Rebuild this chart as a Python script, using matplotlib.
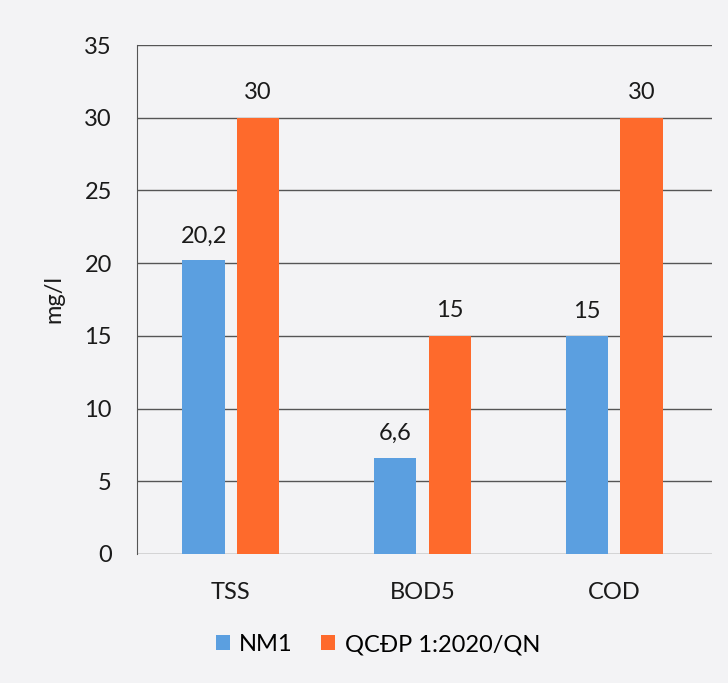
import matplotlib.pyplot as plt
import numpy as np

plt.rcParams['font.family'] = ['Lato', 'DejaVu Sans']

categories = ['TSS', 'BOD5', 'COD']
nm1 = [20.2, 6.6, 15]
qcdp = [30, 15, 30]
nm1_labels = ['20,2', '6,6', '15']
qcdp_labels = ['30', '15', '30']

blue = '#5b9fe0'
orange = '#fe6a2c'
bg = '#f3f3f5'
fs = 17

fig = plt.figure(figsize=(7.28, 6.83), dpi=100, facecolor=bg)
ax = fig.add_axes([0.188, 0.189, 0.79, 0.745], facecolor=bg)

x = np.arange(len(categories))
w = 0.22
b1 = ax.bar(x - 0.142, nm1, w, color=blue, label='NM1', zorder=3)
b2 = ax.bar(x + 0.142, qcdp, w, color=orange, label='QCĐP 1:2020/QN', zorder=3)

for rect, lab in zip(b1, nm1_labels):
    ax.text(rect.get_x() + rect.get_width() / 2, rect.get_height() + 0.95, lab,
            ha='center', va='bottom', fontsize=fs, color='#1a1a1a')
for rect, lab in zip(b2, qcdp_labels):
    ax.text(rect.get_x() + rect.get_width() / 2, rect.get_height() + 1.05, lab,
            ha='center', va='bottom', fontsize=fs, color='#1a1a1a')

ax.set_ylim(0, 35)
ax.set_xlim(-0.49, 2.51)
ax.set_yticks(range(0, 36, 5))
ax.set_xticks(x)
ax.set_xticklabels(categories)
ax.yaxis.grid(True, color='#555555', linewidth=1.0, zorder=0)
ax.tick_params(axis='both', length=0, labelsize=fs, colors='#1a1a1a')
ax.tick_params(axis='y', pad=18)
ax.tick_params(axis='x', pad=20)
for s in ['top', 'right', 'bottom']:
    ax.spines[s].set_visible(False)
ax.spines['left'].set_color('#555555')
ax.set_ylabel('mg/l', fontsize=fs, color='#1a1a1a', labelpad=14)

fig.legend(loc='center', bbox_to_anchor=(0.519, 0.056), ncol=2, frameon=False,
           fontsize=17, handlelength=0.6, handleheight=0.6, columnspacing=1.2,
           handletextpad=0.4)

fig.savefig('out.png', dpi=100, facecolor=bg)
